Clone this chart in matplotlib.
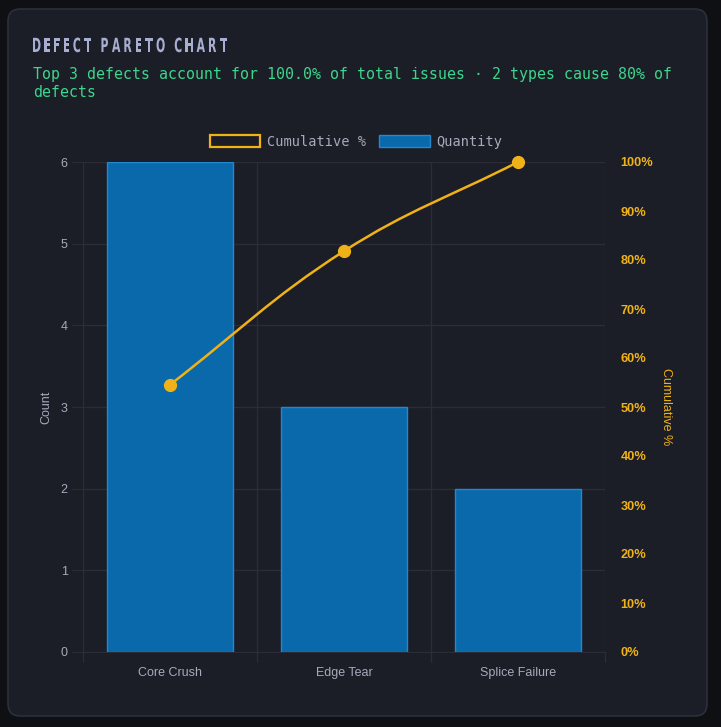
import matplotlib
matplotlib.use("Agg")
import matplotlib.pyplot as plt
from matplotlib.patches import FancyBboxPatch, Patch, PathPatch
from matplotlib.path import Path
from matplotlib.textpath import TextPath
from matplotlib.font_manager import FontProperties
from matplotlib.transforms import Affine2D
import numpy as np

# %% data
categories = ["Core Crush", "Edge Tear", "Splice Failure"]
counts = [6, 3, 2]
cumulative_pct = list(np.cumsum(counts) / np.sum(counts) * 100)
y_ticks = [0, 1, 2, 3, 4, 5, 6]
pct_ticks = [0, 10, 20, 30, 40, 50, 60, 70, 80, 90, 100]

title = "DEFECT PARETO CHART"
subtitle = "Top 3 defects account for 100.0% of total issues \u00b7 2 types cause 80% of\ndefects"

# %% colours
bg_outer = "#0e1014"
bg_card = "#1b1d27"
card_edge = "#2c2f3d"
grid_col = "#2a2d38"
bar_face = "#0a69ab"
bar_edge = "#2288d0"
orange = "#f0b216"
tick_grey = "#a6aabb"
green = "#3dd68c"
title_col = "#a7aed0"

W, H = 721, 727
fig = plt.figure(figsize=(W / 100, H / 100), dpi=100, facecolor=bg_outer)

card = FancyBboxPatch(
    (8 / W, 11 / H), 699 / W, 707 / H,
    boxstyle="round,pad=0,rounding_size=0.017",
    transform=fig.transFigure, facecolor=bg_card, edgecolor=card_edge,
    linewidth=1.2, zorder=-10,
)
fig.patches.append(card)

# %% axes
ax = fig.add_axes([83 / W, 1 - 652 / H, 522 / W, 490 / H])
ax.set_facecolor("none")
x = np.arange(len(categories))
ax.bar(x, counts, width=0.72, color=bar_face, edgecolor=bar_edge, linewidth=1, zorder=2)
ax.set_xlim(-0.5, len(categories) - 0.5)
ax.set_ylim(0, 6)
ax.set_yticks(y_ticks)
ax.set_xticks(x)
ax.set_xticklabels(categories)
ax.set_xticks(np.arange(len(categories) + 1) - 0.5, minor=True)
ax.tick_params(axis="x", which="major", length=0, pad=11, colors=tick_grey, labelsize=9)
ax.tick_params(axis="x", which="minor", length=7, color=grid_col, width=1)
ax.tick_params(axis="y", length=8, color=grid_col, pad=3, labelcolor=tick_grey, labelsize=9)
ax.grid(axis="y", color=grid_col, linewidth=1, zorder=0)
ax.grid(axis="x", which="minor", color=grid_col, linewidth=1, zorder=0)
for s in ax.spines.values():
    s.set_color(grid_col)
ax.spines["top"].set_visible(False)
ax.spines["right"].set_visible(False)
ax.set_ylabel("Count", color=tick_grey, fontsize=9, labelpad=6)
for lbl in ax.get_xticklabels() + ax.get_yticklabels():
    lbl.set_fontfamily(["Liberation Sans", "DejaVu Sans"])
ax.yaxis.label.set_fontfamily(["Liberation Sans", "DejaVu Sans"])

ax2 = ax.twinx()
ax2.set_ylim(0, 100)
ax2.set_yticks(pct_ticks)
ax2.set_yticklabels([f"{t}%" for t in pct_ticks])
ax2.tick_params(axis="y", length=0, pad=11, labelcolor=orange, labelsize=9.2)
for lbl in ax2.get_yticklabels():
    lbl.set_fontfamily(["Liberation Sans", "DejaVu Sans"])
    lbl.set_fontweight("semibold")
for s in ax2.spines.values():
    s.set_visible(False)
ax2.set_ylabel("Cumulative %", color=orange, fontsize=9, rotation=-90, labelpad=14,
               fontfamily=["Liberation Sans", "DejaVu Sans"])

# smooth line like Chart.js tension
tension = 0.4
pts = ax2.transData.transform(np.column_stack([x, cumulative_pct]))
verts = [pts[0]]
codes = [Path.MOVETO]
n = len(pts)
cps = []
for i in range(n):
    prev = pts[max(i - 1, 0)]
    cur = pts[i]
    nxt = pts[min(i + 1, n - 1)]
    d01 = np.hypot(*(cur - prev))
    d12 = np.hypot(*(nxt - cur))
    tot = d01 + d12 if d01 + d12 else 1
    fa = tension * d01 / tot
    fb = tension * d12 / tot
    cps.append((cur - fa * (nxt - prev), cur + fb * (nxt - prev)))
for i in range(1, n):
    verts += [cps[i - 1][1], cps[i][0], pts[i]]
    codes += [Path.CURVE4] * 3
path = Path(ax2.transData.inverted().transform(np.array(verts)), codes)
ax2.add_patch(PathPatch(path, facecolor="none", edgecolor=orange, linewidth=1.8, zorder=3))
ax2.plot(x, cumulative_pct, "o", color=orange, markersize=8.5, zorder=4, clip_on=False)

# %% legend
handles = [
    Patch(facecolor="none", edgecolor=orange, linewidth=1.6, label="Cumulative %"),
    Patch(facecolor=bar_face, edgecolor=bar_edge, linewidth=1, label="Quantity"),
]
leg = fig.legend(
    handles=handles, loc="center", bbox_to_anchor=(356 / W, 1 - 142 / H), ncol=2,
    frameon=False, handlelength=3.7, handleheight=0.95, handletextpad=0.5,
    columnspacing=1.0, prop={"family": "DejaVu Sans Mono", "size": 9.8},
)
for t in leg.get_texts():
    t.set_color(tick_grey)

# %% titles
fig.text(33 / W, 1 - 67 / H, subtitle, color=green, fontsize=10.75,
         fontfamily="DejaVu Sans Mono", va="top", ha="left", linespacing=1.25)

# condensed, letter-spaced title drawn as squeezed text paths (pixel coords)
fp = FontProperties(family="DejaVu Sans", weight="bold")
xpos = 33.0
for ch in title:
    if ch == " ":
        xpos += 6
        continue
    tp = TextPath((0, 0), ch, size=19.5, prop=fp)
    ext = tp.get_extents()
    tr = Affine2D().scale(0.56, 1).translate(xpos - ext.x0 * 0.56, H - 52)
    fig.patches.append(PathPatch(tr.transform_path(tp), transform=None,
                                 facecolor=title_col, edgecolor="none", zorder=5))
    xpos += ext.width * 0.56 + 4.0

fig.savefig("out.png", dpi=100, facecolor=bg_outer)
